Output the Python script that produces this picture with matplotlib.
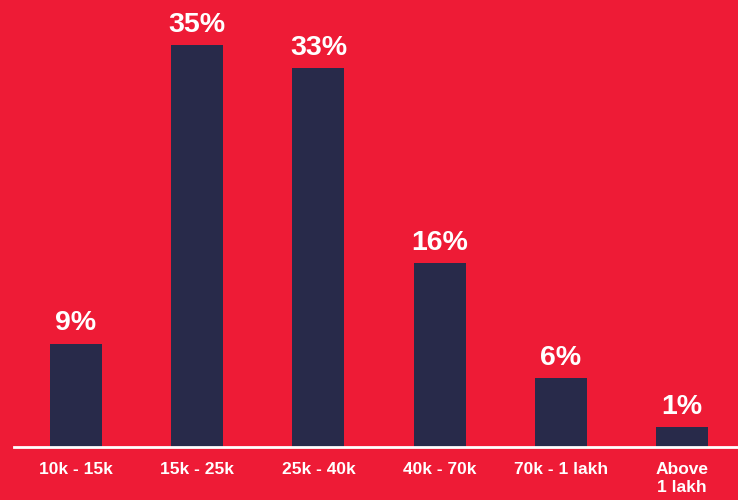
import matplotlib
matplotlib.use('Agg')
import matplotlib.pyplot as plt
import numpy as np

# salary bands and share of respondents
categories = ['10k - 15k', '15k - 25k', '25k - 40k', '40k - 70k', '70k - 1 lakh', 'Above\n1 lakh']
shares = [9, 35, 33, 16, 6, 1.75]
share_labels = ['9%', '35%', '33%', '16%', '6%', '1%']

bg_red = '#ee1b36'
bar_navy = '#282a4a'

fig = plt.figure(figsize=(7.38, 5.0), dpi=100, facecolor=bg_red)
#axes spans from the baseline start to the right edge
ax = fig.add_axes([14 / 738, 53 / 500, 724 / 738, 447 / 500])
ax.set_facecolor(bg_red)

x = np.arange(len(categories))
ax.bar(x, shares, width=0.43, color=bar_navy, zorder=2)

#percent labels above each bar
for xi, v, lab in zip(x, shares, share_labels):
    ax.annotate(lab, (xi, v), xytext=(0, 9.5), textcoords='offset points',
                ha='center', va='baseline', color='white', fontsize=20.5,
                fontweight='bold', family='Liberation Sans')

ax.set_xlim(-0.512, 5.462)
ax.set_ylim(0, 38.9)

for side in ['top', 'left', 'right']:
    ax.spines[side].set_visible(False)
ax.spines['bottom'].set_color('white')
ax.spines['bottom'].set_linewidth(2)
ax.spines['bottom'].set_zorder(3)

ax.set_yticks([])
ax.set_xticks(x)
ax.set_xticklabels(categories, color='white', fontsize=12.5, fontweight='bold',
                   family='Liberation Sans', linespacing=1.25)
ax.tick_params(axis='x', length=0, pad=11)

fig.savefig('out.png', dpi=100, facecolor=bg_red)
